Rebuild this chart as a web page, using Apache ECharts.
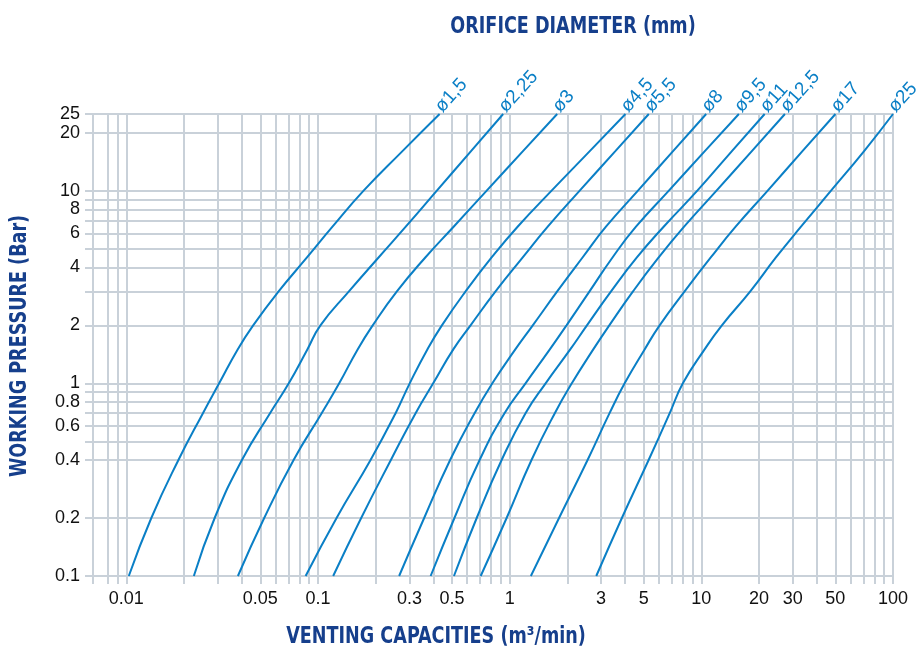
<!DOCTYPE html>
<html>
<head>
<meta charset="utf-8">
<script src="https://cdn.jsdelivr.net/npm/echarts@6/dist/echarts.min.js"></script>
<style>
html,body{margin:0;padding:0;background:#fff;}
#chart{width:918px;height:650px;}
</style>
</head>
<body>
<div id="chart"></div>
<script>
// Working pressure levels (bar) at which each curve was read
const pressure = [0.1, 0.2, 0.4, 0.7, 1, 1.5, 2, 3, 4.5, 6.5, 10, 16, 25];

// Orifice diameters (labels)
const orifices = ['ø1,5', 'ø2,25', 'ø3', 'ø4,5', 'ø5,5', 'ø8', 'ø9,5', 'ø11', 'ø12,5', 'ø17', 'ø25'];

// Venting capacities (m3/min) for each orifice at the pressure levels above
const cap_1_5  = [0.0103, 0.0135, 0.0187, 0.0251, 0.0305, 0.0381, 0.0459, 0.0623, 0.0876, 0.119, 0.173, 0.275, 0.431];
const cap_2_25 = [0.0225, 0.0289, 0.0401, 0.0562, 0.0704, 0.088, 0.103, 0.145, 0.207, 0.287, 0.417, 0.627, 0.925];
const cap_3    = [0.0382, 0.0524, 0.0746, 0.1045, 0.129, 0.161, 0.193, 0.258, 0.363, 0.510, 0.759, 1.17, 1.77];
const cap_4_5  = [0.0862, 0.125, 0.188, 0.254, 0.301, 0.372, 0.443, 0.589, 0.805, 1.10, 1.655, 2.61, 4.02];
const cap_5_5  = [0.120, 0.168, 0.240, 0.323, 0.399, 0.508, 0.625, 0.844, 1.17, 1.58, 2.32, 3.55, 5.32];
const cap_8    = [0.265, 0.358, 0.489, 0.656, 0.812, 1.07, 1.32, 1.77, 2.40, 3.18, 4.67, 7.10, 10.6];
const cap_9_5  = [0.387, 0.515, 0.697, 0.940, 1.21, 1.62, 1.98, 2.61, 3.44, 4.56, 6.77, 10.4, 15.7];
const cap_11   = [0.512, 0.673, 0.908, 1.21, 1.54, 2.07, 2.53, 3.38, 4.61, 6.36, 9.53, 14.4, 21.4];
const cap_12_5 = [0.706, 0.964, 1.30, 1.72, 2.11, 2.73, 3.31, 4.40, 5.99, 8.13, 12.0, 18.3, 27.3];
const cap_17   = [1.29, 1.81, 2.55, 3.32, 3.98, 5.06, 6.06, 8.18, 11.2, 15.1, 22.2, 33.6, 50.1];
const cap_25   = [2.83, 3.85, 5.31, 6.84, 8.01, 10.4, 12.8, 18.0, 24.5, 33.1, 47.5, 70.5, 100];

// Axis ticks / gridlines / labels
const xGridValues = [0.0067, 0.008, 0.009, 0.01, 0.02, 0.03, 0.04, 0.05, 0.06, 0.07, 0.08, 0.09,
  0.1, 0.2, 0.3, 0.4, 0.5, 0.6, 0.7, 0.8, 0.9, 1, 2, 3, 4, 5, 6, 7, 8, 9,
  10, 20, 30, 40, 50, 60, 70, 80, 90, 100];
const xLabelValues = [0.01, 0.05, 0.1, 0.3, 0.5, 1, 3, 5, 10, 20, 30, 50, 100];
const yGridValues = [0.1, 0.2, 0.4, 0.5, 0.6, 0.7, 0.8, 0.9, 1, 2, 3, 4, 5, 6, 7, 8, 9, 10, 20, 25];
const yLabelValues = [0.1, 0.2, 0.4, 0.6, 0.8, 1, 2, 4, 6, 8, 10, 20, 25];

const titleTop = 'ORIFICE DIAMETER (mm)';
const titleX = 'VENTING CAPACITIES (m³/min)';
const titleY = 'WORKING PRESSURE (Bar)';

const capacities = [cap_1_5, cap_2_25, cap_3, cap_4_5, cap_5_5, cap_8, cap_9_5, cap_11, cap_12_5, cap_17, cap_25];

const LINE = '#0a7fc6';
const GRID = '#c9d1d9';
const NAVY = '#163f8c';
const TITLE_FONT = 'bold 23px "Liberation Sans Narrow", "DejaVu Sans Condensed", sans-serif';
const fmt = v => String(+(+v).toPrecision(4));

const series = capacities.map((caps, i) => ({
  type: 'line',
  name: orifices[i],
  smooth: 0.5,
  showSymbol: true,
  symbol: 'circle',
  symbolSize: 0,
  lineStyle: { color: LINE, width: 2 },
  itemStyle: { color: LINE },
  emphasis: { disabled: true },
  z: 5,
  data: caps.map((c, j) => {
    const item = { value: [c, pressure[j]] };
    if (j === caps.length - 1) {
      item.label = {
        show: true,
        formatter: orifices[i],
        position: [6, 2],
        align: 'left',
        verticalAlign: 'bottom',
        rotate: 48,
        color: LINE,
        fontSize: 19,
        fontFamily: '"Liberation Sans", Arial, sans-serif'
      };
    }
    return item;
  })
}));

const chart = echarts.init(document.getElementById('chart'), null, { renderer: 'canvas' });
chart.setOption({
  animation: false,
  backgroundColor: '#fff',
  grid: { left: 93, right: 25, top: 114, bottom: 74, show: true, borderColor: GRID, borderWidth: 2, backgroundColor: 'transparent' },
  xAxis: {
    type: 'log',
    logBase: 10,
    min: 0.0067,
    max: 100,
    axisLine: { show: false },
    axisTick: { show: true, inside: false, length: 8, customValues: xGridValues, lineStyle: { color: GRID, width: 2 } },
    splitLine: { show: true, lineStyle: { color: GRID, width: 2 } },
    minorTick: { show: false },
    minorSplitLine: { show: false },
    axisLabel: { customValues: xLabelValues, formatter: fmt, color: '#111', fontSize: 18, margin: 14,
      fontFamily: '"Liberation Sans", Arial, sans-serif' }
  },
  yAxis: {
    type: 'log',
    logBase: 10,
    min: 0.1,
    max: 25,
    axisLine: { show: false },
    axisTick: { show: true, inside: false, length: 8, customValues: yGridValues, lineStyle: { color: GRID, width: 2 } },
    splitLine: { show: true, lineStyle: { color: GRID, width: 2 } },
    minorTick: { show: false },
    minorSplitLine: { show: false },
    axisLabel: { customValues: yLabelValues, formatter: fmt, color: '#111', fontSize: 18, margin: 13,
      fontFamily: '"Liberation Sans", Arial, sans-serif' }
  },
  graphic: [
    { type: 'text', x: 573, y: 27, scaleX: 0.85, silent: true,
      style: { text: titleTop, fill: NAVY, font: TITLE_FONT, align: 'center', verticalAlign: 'middle' } },
    { type: 'text', x: 436, y: 637, scaleX: 0.85, silent: true,
      style: { text: titleX, fill: NAVY, font: TITLE_FONT, align: 'center', verticalAlign: 'middle' } },
    { type: 'text', x: 20, y: 346, scaleX: 0.85, rotation: Math.PI / 2, silent: true,
      style: { text: titleY, fill: NAVY, font: TITLE_FONT, align: 'center', verticalAlign: 'middle' } }
  ],
  series: series
});
</script>
</body>
</html>
